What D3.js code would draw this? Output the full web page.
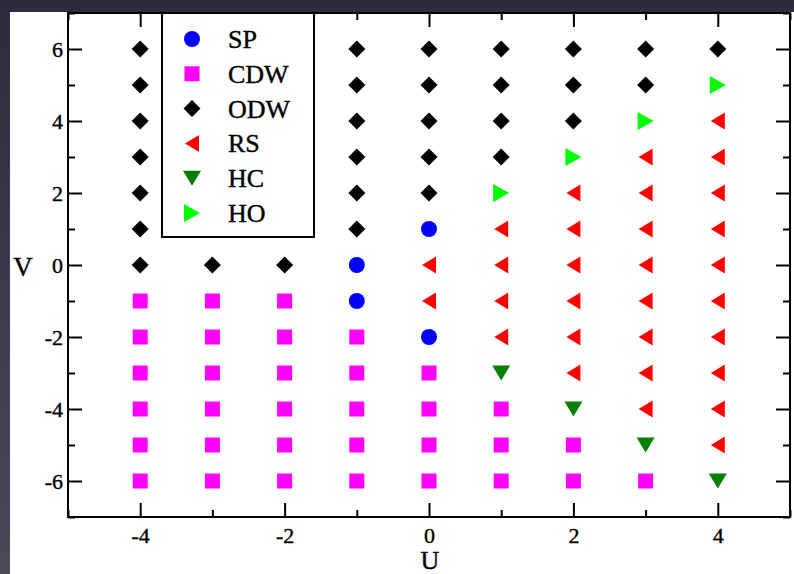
<!DOCTYPE html>
<html>
<head>
<meta charset="utf-8">
<script src="https://cdn.jsdelivr.net/npm/d3@7"></script>
<style>
  body { margin: 0; background: #33334a; }
  svg { display: block; }
</style>
</head>
<body>
<svg id="chart" width="794" height="574"></svg>
<script>
// phase diagram points, [U, V]
const spPoints = [[-1, 0], [-1, -1], [0, 1], [0, -2]]
const cdwPoints = [
    [-4, -1], [-4, -2], [-4, -3], [-4, -4], [-4, -5], [-4, -6],
    [-3, -1], [-3, -2], [-3, -3], [-3, -4], [-3, -5], [-3, -6],
    [-2, -1], [-2, -2], [-2, -3], [-2, -4], [-2, -5], [-2, -6],
    [-1, -2], [-1, -3], [-1, -4], [-1, -5], [-1, -6],
    [0, -3], [0, -4], [0, -5], [0, -6],
    [1, -4], [1, -5], [1, -6],
    [2, -5], [2, -6],
    [3, -6]
]
const odwPoints = [
    [-4, 6], [-4, 5], [-4, 4], [-4, 3], [-4, 2], [-4, 1], [-4, 0],
    [-3, 0], [-2, 0],
    [-1, 6], [-1, 5], [-1, 4], [-1, 3], [-1, 2], [-1, 1],
    [0, 6], [0, 5], [0, 4], [0, 3], [0, 2],
    [1, 6], [1, 5], [1, 4], [1, 3],
    [2, 6], [2, 5], [2, 4],
    [3, 6], [3, 5],
    [4, 6]
]
const rsPoints = [
    [0, 0], [0, -1],
    [1, 1], [1, 0], [1, -1], [1, -2],
    [2, 2], [2, 1], [2, 0], [2, -1], [2, -2], [2, -3],
    [3, 3], [3, 2], [3, 1], [3, 0], [3, -1], [3, -2], [3, -3], [3, -4],
    [4, 4], [4, 3], [4, 2], [4, 1], [4, 0], [4, -1], [4, -2], [4, -3], [4, -4], [4, -5]
]
const hcPoints = [[1, -3], [2, -4], [3, -5], [4, -6]]
const hoPoints = [[1, 2], [2, 3], [3, 4], [4, 5]]

const xMajorTicks = [-4, -2, 0, 2, 4]
const xMinorTicks = [-5, -3, -1, 1, 3, 5]
const yMajorTicks = [-6, -4, -2, 0, 2, 4, 6]
const yMinorTicks = [-7, -5, -3, -1, 1, 3, 5, 7]

const phases = [
    { name: "SP", color: "#0000ff", shape: "circle", points: spPoints },
    { name: "CDW", color: "#ff00ff", shape: "square", points: cdwPoints },
    { name: "ODW", color: "#000000", shape: "diamond", points: odwPoints },
    { name: "RS", color: "#ff0000", shape: "triLeft", points: rsPoints },
    { name: "HC", color: "#008000", shape: "triDown", points: hcPoints },
    { name: "HO", color: "#00ff00", shape: "triRight", points: hoPoints }
]

const shapes = {
    circle: "M8,0A8,8 0 1,1 -8,0A8,8 0 1,1 8,0Z",
    square: "M-7.5,-7.5H7.5V7.5H-7.5Z",
    diamond: "M0,-8.5L8.5,0L0,8.5L-8.5,0Z",
    triLeft: "M-7,0L7,-8.5L7,8.5Z",
    triDown: "M-9,-7.5L9,-7.5L0,7.5Z",
    triRight: "M8,0L-8,-9L-8,9Z"
}

const frame = { left: 68, right: 790, top: 13, bottom: 517 }
const serif = "'Liberation Serif', 'Times New Roman', serif"

const svg = d3.select("#chart")

// dark surround and white page
const grad = svg.append("defs").append("linearGradient")
    .attr("id", "bg").attr("x1", 0).attr("y1", 0).attr("x2", 0).attr("y2", 1)
grad.append("stop").attr("offset", "0%").attr("stop-color", "#2c2c3e")
grad.append("stop").attr("offset", "100%").attr("stop-color", "#4a4a58")
svg.append("rect").attr("width", 794).attr("height", 574).attr("fill", "url(#bg)")
svg.append("rect").attr("x", 10).attr("y", 12).attr("width", 784).attr("height", 562).attr("fill", "#ffffff")

const x = d3.scaleLinear().domain([-5, 5]).range([frame.left, frame.right])
const y = d3.scaleLinear().domain([-7, 7]).range([frame.bottom, frame.top])

const fmt = d => String(d)

function styleAxis(g) {
    g.select(".domain").remove()
    g.selectAll("line").attr("stroke", "#000").attr("stroke-width", 2)
    g.selectAll("text").attr("font-family", serif).attr("font-size", 22).attr("fill", "#000")
        .attr("stroke", "#000").attr("stroke-width", 0.4)
}

// bottom
svg.append("g").attr("transform", `translate(0,${frame.bottom})`)
    .call(d3.axisBottom(x).tickValues(xMajorTicks).tickSize(-14).tickPadding(10).tickFormat(fmt))
    .call(styleAxis)
svg.append("g").attr("transform", `translate(0,${frame.bottom})`)
    .call(d3.axisBottom(x).tickValues(xMinorTicks).tickSize(-7).tickFormat(""))
    .call(styleAxis)
// top
svg.append("g").attr("transform", `translate(0,${frame.top})`)
    .call(d3.axisTop(x).tickValues(xMajorTicks).tickSize(-14).tickFormat(""))
    .call(styleAxis)
svg.append("g").attr("transform", `translate(0,${frame.top})`)
    .call(d3.axisTop(x).tickValues(xMinorTicks).tickSize(-7).tickFormat(""))
    .call(styleAxis)
// left
svg.append("g").attr("transform", `translate(${frame.left},0)`)
    .call(d3.axisLeft(y).tickValues(yMajorTicks).tickSize(-14).tickPadding(5).tickFormat(fmt))
    .call(styleAxis)
svg.append("g").attr("transform", `translate(${frame.left},0)`)
    .call(d3.axisLeft(y).tickValues(yMinorTicks).tickSize(-7).tickFormat(""))
    .call(styleAxis)
// right
svg.append("g").attr("transform", `translate(${frame.right},0)`)
    .call(d3.axisRight(y).tickValues(yMajorTicks).tickSize(-14).tickFormat(""))
    .call(styleAxis)
svg.append("g").attr("transform", `translate(${frame.right},0)`)
    .call(d3.axisRight(y).tickValues(yMinorTicks).tickSize(-7).tickFormat(""))
    .call(styleAxis)

svg.append("rect")
    .attr("x", frame.left).attr("y", frame.top)
    .attr("width", frame.right - frame.left).attr("height", frame.bottom - frame.top)
    .attr("fill", "none").attr("stroke", "#000").attr("stroke-width", 2)

// axis labels
svg.append("text").attr("x", 23).attr("y", 276)
    .attr("text-anchor", "middle").attr("font-family", serif).attr("font-size", 27)
    .attr("stroke", "#000").attr("stroke-width", 0.4)
    .text("V")
svg.append("text").attr("x", 430).attr("y", 569)
    .attr("text-anchor", "middle").attr("font-family", serif).attr("font-size", 26)
    .attr("stroke", "#000").attr("stroke-width", 0.4)
    .text("U")

// markers
phases.forEach(p => {
    svg.append("g").selectAll("path")
        .data(p.points)
        .join("path")
        .attr("d", shapes[p.shape])
        .attr("fill", p.color)
        .attr("transform", d => `translate(${x(d[0])},${y(d[1])})`)
})

// legend
const legend = svg.append("g")
legend.append("rect")
    .attr("x", 162).attr("y", frame.top).attr("width", 152).attr("height", 224)
    .attr("fill", "#fff").attr("stroke", "#000").attr("stroke-width", 2)
phases.forEach((p, i) => {
    const cy = 39 + i * 34.8
    legend.append("path")
        .attr("d", shapes[p.shape])
        .attr("fill", p.color)
        .attr("transform", `translate(192,${cy})`)
    legend.append("text")
        .attr("x", 228).attr("y", cy + 9)
        .attr("font-family", serif).attr("font-size", 26)
        .attr("stroke", "#000").attr("stroke-width", 0.4)
        .text(p.name)
})
</script>
</body>
</html>
